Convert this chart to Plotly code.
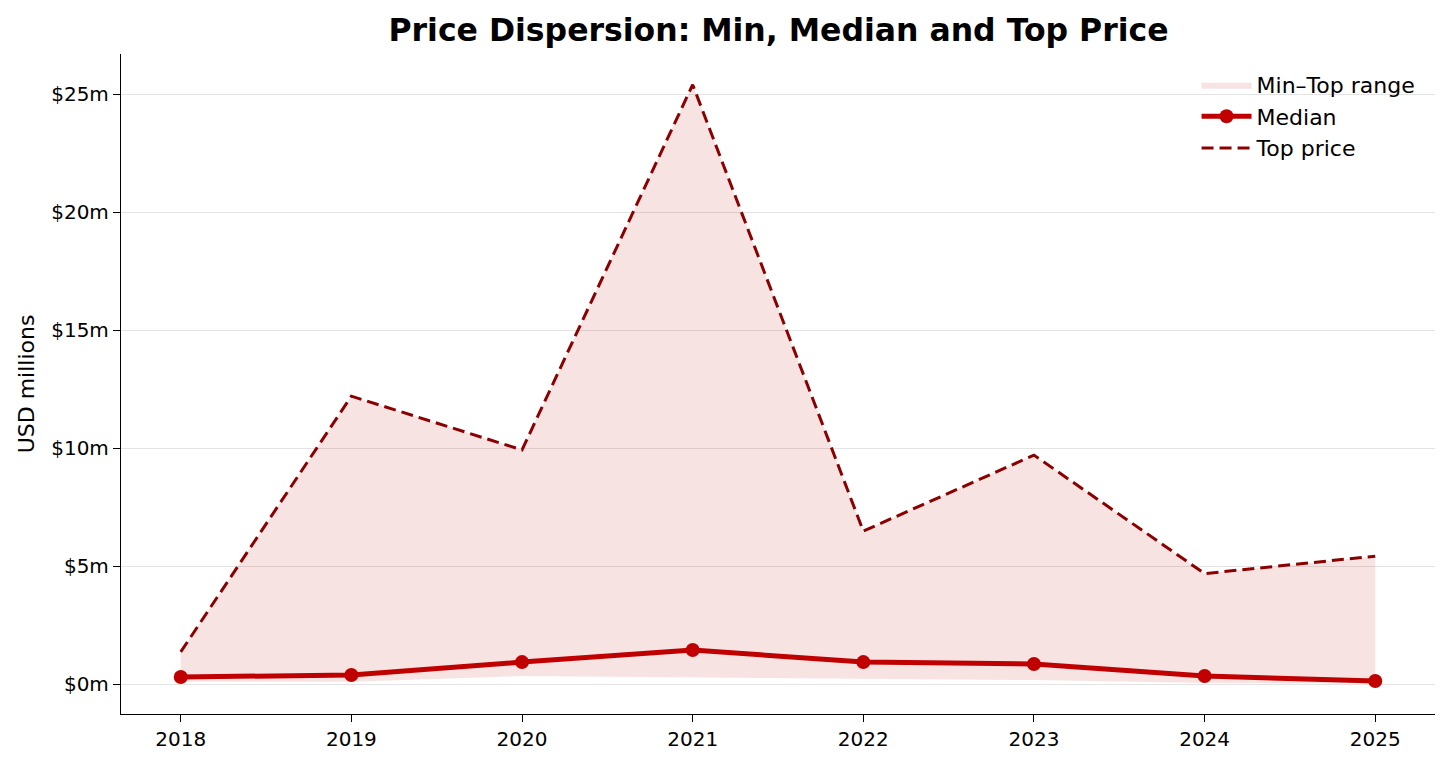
import plotly.graph_objects as go

years = [2018, 2019, 2020, 2021, 2022, 2023, 2024, 2025]
top_price = [1.36, 12.2, 9.92, 25.4, 6.48, 9.7, 4.68, 5.42]
median_price = [0.30, 0.38, 0.93, 1.44, 0.93, 0.85, 0.34, 0.13]
min_price = [0.10, 0.10, 0.34, 0.28, 0.20, 0.17, 0.04, 0.03]

fig = go.Figure()

# lower edge of the band, hidden
fig.add_trace(go.Scatter(x=years, y=min_price, mode='lines', line=dict(width=0),
                         showlegend=False, hoverinfo='skip'))
fig.add_trace(go.Scatter(x=years, y=top_price, mode='lines', line=dict(width=0),
                         fill='tonexty', fillcolor='rgba(200,40,40,0.13)',
                         name='Min–Top range'))
fig.add_trace(go.Scatter(x=years, y=median_price, mode='lines+markers', name='Median',
                         line=dict(color='#c00000', width=5),
                         marker=dict(color='#c00000', size=14)))
fig.add_trace(go.Scatter(x=years, y=top_price, mode='lines', name='Top price',
                         line=dict(color='#8b0000', width=3, dash='12px,6px')))

fig.update_layout(
    width=1444, height=759,
    paper_bgcolor='white', plot_bgcolor='white',
    font=dict(family='DejaVu Sans', color='black', size=20),
    title=dict(text='<b>Price Dispersion: Min, Median and Top Price</b>',
               x=0.5336, xanchor='center', y=0.971, yanchor='middle',
               font=dict(size=31.5)),
    margin=dict(l=113, r=17, t=46, b=53),
    legend=dict(x=0.989, xanchor='right', y=0.985, yanchor='top',
                traceorder='normal', bgcolor='rgba(255,255,255,0)',
                font=dict(size=22), tracegroupgap=0, itemwidth=50),
)
fig.update_xaxes(range=[2017.65, 2025.35], tickvals=years, showgrid=False,
                 showline=True, linecolor='black', linewidth=1.3,
                 ticks='outside', ticklen=7, tickwidth=1.3, tickcolor='black',
                 zeroline=False, tickfont=dict(size=20))
fig.update_yaxes(range=[-1.27, 26.7], dtick=5, tickprefix='$', ticksuffix='m',
                 showgrid=True, gridcolor='#e3e3e3', gridwidth=1.3,
                 showline=True, linecolor='black', linewidth=1.3,
                 ticks='outside', ticklen=7, tickwidth=1.3, tickcolor='black',
                 zeroline=False, tickfont=dict(size=20),
                 title=dict(text='USD millions', font=dict(size=22), standoff=10))

fig.write_html("out.html")
